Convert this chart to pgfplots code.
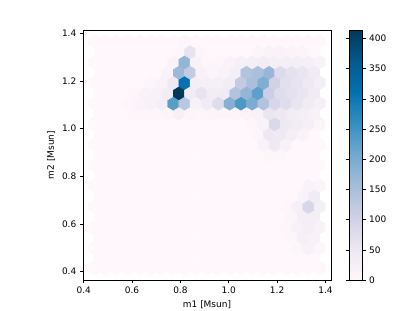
\documentclass[border=0pt]{standalone}
\usepackage{pgfplots}
\pgfplotsset{compat=1.18}
\usepackage{pgfplotstable}
\usepackage{fontspec}
\setmainfont{DejaVu Sans}

\pgfplotsset{
  colormap={pubu}{rgb255=(255,247,251) rgb255=(236,231,242) rgb255=(208,209,230)
    rgb255=(166,189,219) rgb255=(116,169,207) rgb255=(54,144,192)
    rgb255=(5,112,176) rgb255=(4,90,141) rgb255=(2,56,88)},
}

% pointy-top hexagon matching the hexbin cell (sx/2 = 5.64bp, sy/3 = 6.88bp)
\pgfdeclareplotmark{hexa}{%
  \pgfpathmoveto{\pgfpoint{0bp}{6.88bp}}%
  \pgfpathlineto{\pgfpoint{5.64bp}{3.44bp}}%
  \pgfpathlineto{\pgfpoint{5.64bp}{-3.44bp}}%
  \pgfpathlineto{\pgfpoint{0bp}{-6.88bp}}%
  \pgfpathlineto{\pgfpoint{-5.64bp}{-3.44bp}}%
  \pgfpathlineto{\pgfpoint{-5.64bp}{3.44bp}}%
  \pgfpathclose
  \pgfusepathqfillstroke}

% hexbin cells: centre x, centre y, count
\pgfplotstableread[row sep=\\]{
x y c\\
0.4436 0.4120 0\\ 0.4903 0.4120 0\\ 0.5369 0.4120 0\\ 0.5836 0.4120 0\\ 0.6302 0.4120 0\\ 0.6769 0.4120 0\\ 0.7235 0.4120 0\\ 0.7702 0.4120 0\\ 0.8168 0.4120 0\\ 0.8635 0.4120 0\\ 0.9101 0.4120 0\\ 0.9568 0.4120 0\\ 1.0034 0.4120 0\\ 1.0501 0.4120 0\\ 1.0967 0.4120 0\\ 1.1434 0.4120 0\\ 1.1900 0.4120 0\\ 1.2367 0.4120 0\\ 1.2833 0.4120 0\\ 1.3300 0.4120 0\\ 1.3766 0.4120 0\\
0.4669 0.4554 0\\ 0.5136 0.4554 0\\ 0.5602 0.4554 0\\ 0.6069 0.4554 0\\ 0.6535 0.4554 0\\ 0.7002 0.4554 0\\ 0.7468 0.4554 0\\ 0.7935 0.4554 0\\ 0.8401 0.4554 0\\ 0.8868 0.4554 0\\ 0.9334 0.4554 0\\ 0.9801 0.4554 0\\ 1.0267 0.4554 0\\ 1.0734 0.4554 0\\ 1.1200 0.4554 0\\ 1.1667 0.4554 0\\ 1.2133 0.4554 0\\ 1.2600 0.4554 0\\ 1.3066 0.4554 0\\ 1.3533 0.4554 0\\
0.4436 0.4988 0\\ 0.4903 0.4988 0\\ 0.5369 0.4988 0\\ 0.5836 0.4988 0\\ 0.6302 0.4988 0\\ 0.6769 0.4988 0\\ 0.7235 0.4988 0\\ 0.7702 0.4988 0\\ 0.8168 0.4988 0\\ 0.8635 0.4988 0\\ 0.9101 0.4988 0\\ 0.9568 0.4988 0\\ 1.0034 0.4988 0\\ 1.0501 0.4988 0\\ 1.0967 0.4988 0\\ 1.1434 0.4988 0\\ 1.1900 0.4988 0\\ 1.2367 0.4988 0\\ 1.2833 0.4988 8\\ 1.3300 0.4988 20\\ 1.3766 0.4988 8\\
0.4669 0.5422 0\\ 0.5136 0.5422 0\\ 0.5602 0.5422 0\\ 0.6069 0.5422 0\\ 0.6535 0.5422 0\\ 0.7002 0.5422 0\\ 0.7468 0.5422 0\\ 0.7935 0.5422 0\\ 0.8401 0.5422 0\\ 0.8868 0.5422 0\\ 0.9334 0.5422 0\\ 0.9801 0.5422 0\\ 1.0267 0.5422 0\\ 1.0734 0.5422 0\\ 1.1200 0.5422 0\\ 1.1667 0.5422 0\\ 1.2133 0.5422 0\\ 1.2600 0.5422 8\\ 1.3066 0.5422 25\\ 1.3533 0.5422 20\\
0.4436 0.5856 0\\ 0.4903 0.5856 0\\ 0.5369 0.5856 0\\ 0.5836 0.5856 0\\ 0.6302 0.5856 0\\ 0.6769 0.5856 0\\ 0.7235 0.5856 0\\ 0.7702 0.5856 0\\ 0.8168 0.5856 0\\ 0.8635 0.5856 0\\ 0.9101 0.5856 0\\ 0.9568 0.5856 0\\ 1.0034 0.5856 0\\ 1.0501 0.5856 0\\ 1.0967 0.5856 0\\ 1.1434 0.5856 0\\ 1.1900 0.5856 0\\ 1.2367 0.5856 5\\ 1.2833 0.5856 20\\ 1.3300 0.5856 30\\ 1.3766 0.5856 20\\
0.4669 0.6290 0\\ 0.5136 0.6290 0\\ 0.5602 0.6290 0\\ 0.6069 0.6290 0\\ 0.6535 0.6290 0\\ 0.7002 0.6290 0\\ 0.7468 0.6290 0\\ 0.7935 0.6290 0\\ 0.8401 0.6290 0\\ 0.8868 0.6290 0\\ 0.9334 0.6290 0\\ 0.9801 0.6290 0\\ 1.0267 0.6290 0\\ 1.0734 0.6290 0\\ 1.1200 0.6290 0\\ 1.1667 0.6290 0\\ 1.2133 0.6290 0\\ 1.2600 0.6290 10\\ 1.3066 0.6290 30\\ 1.3533 0.6290 30\\
0.4436 0.6724 0\\ 0.4903 0.6724 0\\ 0.5369 0.6724 0\\ 0.5836 0.6724 0\\ 0.6302 0.6724 0\\ 0.6769 0.6724 0\\ 0.7235 0.6724 0\\ 0.7702 0.6724 0\\ 0.8168 0.6724 0\\ 0.8635 0.6724 0\\ 0.9101 0.6724 0\\ 0.9568 0.6724 0\\ 1.0034 0.6724 0\\ 1.0501 0.6724 0\\ 1.0967 0.6724 0\\ 1.1434 0.6724 0\\ 1.1900 0.6724 0\\ 1.2367 0.6724 5\\ 1.2833 0.6724 25\\ 1.3300 0.6724 90\\ 1.3766 0.6724 30\\
0.4669 0.7158 0\\ 0.5136 0.7158 0\\ 0.5602 0.7158 0\\ 0.6069 0.7158 0\\ 0.6535 0.7158 0\\ 0.7002 0.7158 0\\ 0.7468 0.7158 0\\ 0.7935 0.7158 0\\ 0.8401 0.7158 0\\ 0.8868 0.7158 0\\ 0.9334 0.7158 0\\ 0.9801 0.7158 0\\ 1.0267 0.7158 0\\ 1.0734 0.7158 0\\ 1.1200 0.7158 0\\ 1.1667 0.7158 0\\ 1.2133 0.7158 0\\ 1.2600 0.7158 0\\ 1.3066 0.7158 15\\ 1.3533 0.7158 40\\
0.4436 0.7592 0\\ 0.4903 0.7592 0\\ 0.5369 0.7592 0\\ 0.5836 0.7592 0\\ 0.6302 0.7592 0\\ 0.6769 0.7592 0\\ 0.7235 0.7592 0\\ 0.7702 0.7592 0\\ 0.8168 0.7592 0\\ 0.8635 0.7592 0\\ 0.9101 0.7592 0\\ 0.9568 0.7592 0\\ 1.0034 0.7592 0\\ 1.0501 0.7592 0\\ 1.0967 0.7592 0\\ 1.1434 0.7592 0\\ 1.1900 0.7592 0\\ 1.2367 0.7592 0\\ 1.2833 0.7592 0\\ 1.3300 0.7592 15\\ 1.3766 0.7592 10\\
0.4669 0.8026 0\\ 0.5136 0.8026 0\\ 0.5602 0.8026 0\\ 0.6069 0.8026 0\\ 0.6535 0.8026 0\\ 0.7002 0.8026 0\\ 0.7468 0.8026 0\\ 0.7935 0.8026 0\\ 0.8401 0.8026 0\\ 0.8868 0.8026 0\\ 0.9334 0.8026 0\\ 0.9801 0.8026 0\\ 1.0267 0.8026 0\\ 1.0734 0.8026 0\\ 1.1200 0.8026 0\\ 1.1667 0.8026 0\\ 1.2133 0.8026 0\\ 1.2600 0.8026 0\\ 1.3066 0.8026 0\\ 1.3533 0.8026 0\\
0.4436 0.8460 0\\ 0.4903 0.8460 0\\ 0.5369 0.8460 0\\ 0.5836 0.8460 0\\ 0.6302 0.8460 0\\ 0.6769 0.8460 0\\ 0.7235 0.8460 0\\ 0.7702 0.8460 0\\ 0.8168 0.8460 0\\ 0.8635 0.8460 0\\ 0.9101 0.8460 0\\ 0.9568 0.8460 0\\ 1.0034 0.8460 0\\ 1.0501 0.8460 0\\ 1.0967 0.8460 0\\ 1.1434 0.8460 0\\ 1.1900 0.8460 0\\ 1.2367 0.8460 0\\ 1.2833 0.8460 0\\ 1.3300 0.8460 0\\ 1.3766 0.8460 0\\
0.4669 0.8894 0\\ 0.5136 0.8894 0\\ 0.5602 0.8894 0\\ 0.6069 0.8894 0\\ 0.6535 0.8894 0\\ 0.7002 0.8894 0\\ 0.7468 0.8894 0\\ 0.7935 0.8894 0\\ 0.8401 0.8894 0\\ 0.8868 0.8894 0\\ 0.9334 0.8894 0\\ 0.9801 0.8894 0\\ 1.0267 0.8894 0\\ 1.0734 0.8894 0\\ 1.1200 0.8894 0\\ 1.1667 0.8894 8\\ 1.2133 0.8894 8\\ 1.2600 0.8894 0\\ 1.3066 0.8894 0\\ 1.3533 0.8894 0\\
0.4436 0.9328 0\\ 0.4903 0.9328 0\\ 0.5369 0.9328 0\\ 0.5836 0.9328 0\\ 0.6302 0.9328 0\\ 0.6769 0.9328 0\\ 0.7235 0.9328 0\\ 0.7702 0.9328 0\\ 0.8168 0.9328 0\\ 0.8635 0.9328 0\\ 0.9101 0.9328 0\\ 0.9568 0.9328 0\\ 1.0034 0.9328 0\\ 1.0501 0.9328 0\\ 1.0967 0.9328 0\\ 1.1434 0.9328 15\\ 1.1900 0.9328 45\\ 1.2367 0.9328 20\\ 1.2833 0.9328 0\\ 1.3300 0.9328 0\\ 1.3766 0.9328 0\\
0.4669 0.9762 0\\ 0.5136 0.9762 0\\ 0.5602 0.9762 0\\ 0.6069 0.9762 0\\ 0.6535 0.9762 0\\ 0.7002 0.9762 0\\ 0.7468 0.9762 0\\ 0.7935 0.9762 0\\ 0.8401 0.9762 0\\ 0.8868 0.9762 0\\ 0.9334 0.9762 0\\ 0.9801 0.9762 0\\ 1.0267 0.9762 0\\ 1.0734 0.9762 0\\ 1.1200 0.9762 8\\ 1.1667 0.9762 50\\ 1.2133 0.9762 45\\ 1.2600 0.9762 30\\ 1.3066 0.9762 15\\ 1.3533 0.9762 0\\
0.4436 1.0196 0\\ 0.4903 1.0196 0\\ 0.5369 1.0196 0\\ 0.5836 1.0196 0\\ 0.6302 1.0196 0\\ 0.6769 1.0196 0\\ 0.7235 1.0196 0\\ 0.7702 1.0196 0\\ 0.8168 1.0196 0\\ 0.8635 1.0196 0\\ 0.9101 1.0196 0\\ 0.9568 1.0196 0\\ 1.0034 1.0196 0\\ 1.0501 1.0196 0\\ 1.0967 1.0196 8\\ 1.1434 1.0196 15\\ 1.1900 1.0196 85\\ 1.2367 1.0196 45\\ 1.2833 1.0196 35\\ 1.3300 1.0196 25\\ 1.3766 1.0196 10\\
0.4669 1.0630 0\\ 0.5136 1.0630 0\\ 0.5602 1.0630 0\\ 0.6069 1.0630 5\\ 0.6535 1.0630 5\\ 0.7002 1.0630 5\\ 0.7468 1.0630 10\\ 0.7935 1.0630 25\\ 0.8401 1.0630 10\\ 0.8868 1.0630 8\\ 0.9334 1.0630 10\\ 0.9801 1.0630 10\\ 1.0267 1.0630 10\\ 1.0734 1.0630 12\\ 1.1200 1.0630 20\\ 1.1667 1.0630 55\\ 1.2133 1.0630 50\\ 1.2600 1.0630 35\\ 1.3066 1.0630 30\\ 1.3533 1.0630 20\\
0.4436 1.1064 0\\ 0.4903 1.1064 0\\ 0.5369 1.1064 0\\ 0.5836 1.1064 5\\ 0.6302 1.1064 12\\ 0.6769 1.1064 20\\ 0.7235 1.1064 30\\ 0.7702 1.1064 230\\ 0.8168 1.1064 130\\ 0.8635 1.1064 20\\ 0.9101 1.1064 40\\ 0.9568 1.1064 75\\ 1.0034 1.1064 190\\ 1.0501 1.1064 240\\ 1.0967 1.1064 200\\ 1.1434 1.1064 140\\ 1.1900 1.1064 90\\ 1.2367 1.1064 75\\ 1.2833 1.1064 55\\ 1.3300 1.1064 40\\ 1.3766 1.1064 25\\
0.4669 1.1498 0\\ 0.5136 1.1498 0\\ 0.5602 1.1498 0\\ 0.6069 1.1498 5\\ 0.6535 1.1498 15\\ 0.7002 1.1498 20\\ 0.7468 1.1498 35\\ 0.7935 1.1498 414\\ 0.8401 1.1498 40\\ 0.8868 1.1498 60\\ 0.9334 1.1498 35\\ 0.9801 1.1498 40\\ 1.0267 1.1498 140\\ 1.0734 1.1498 175\\ 1.1200 1.1498 225\\ 1.1667 1.1498 110\\ 1.2133 1.1498 75\\ 1.2600 1.1498 65\\ 1.3066 1.1498 55\\ 1.3533 1.1498 40\\
0.4436 1.1932 0\\ 0.4903 1.1932 0\\ 0.5369 1.1932 0\\ 0.5836 1.1932 0\\ 0.6302 1.1932 0\\ 0.6769 1.1932 8\\ 0.7235 1.1932 15\\ 0.7702 1.1932 45\\ 0.8168 1.1932 310\\ 0.8635 1.1932 30\\ 0.9101 1.1932 25\\ 0.9568 1.1932 25\\ 1.0034 1.1932 35\\ 1.0501 1.1932 120\\ 1.0967 1.1932 150\\ 1.1434 1.1932 195\\ 1.1900 1.1932 100\\ 1.2367 1.1932 70\\ 1.2833 1.1932 60\\ 1.3300 1.1932 45\\ 1.3766 1.1932 30\\
0.4669 1.2366 0\\ 0.5136 1.2366 0\\ 0.5602 1.2366 0\\ 0.6069 1.2366 0\\ 0.6535 1.2366 0\\ 0.7002 1.2366 0\\ 0.7468 1.2366 15\\ 0.7935 1.2366 165\\ 0.8401 1.2366 120\\ 0.8868 1.2366 20\\ 0.9334 1.2366 10\\ 0.9801 1.2366 15\\ 1.0267 1.2366 30\\ 1.0734 1.2366 140\\ 1.1200 1.2366 150\\ 1.1667 1.2366 170\\ 1.2133 1.2366 80\\ 1.2600 1.2366 65\\ 1.3066 1.2366 55\\ 1.3533 1.2366 40\\
0.4436 1.2800 0\\ 0.4903 1.2800 0\\ 0.5369 1.2800 0\\ 0.5836 1.2800 0\\ 0.6302 1.2800 0\\ 0.6769 1.2800 0\\ 0.7235 1.2800 0\\ 0.7702 1.2800 15\\ 0.8168 1.2800 175\\ 0.8635 1.2800 20\\ 0.9101 1.2800 5\\ 0.9568 1.2800 8\\ 1.0034 1.2800 15\\ 1.0501 1.2800 25\\ 1.0967 1.2800 30\\ 1.1434 1.2800 35\\ 1.1900 1.2800 30\\ 1.2367 1.2800 30\\ 1.2833 1.2800 30\\ 1.3300 1.2800 25\\ 1.3766 1.2800 15\\
0.4669 1.3234 0\\ 0.5136 1.3234 0\\ 0.5602 1.3234 0\\ 0.6069 1.3234 0\\ 0.6535 1.3234 0\\ 0.7002 1.3234 0\\ 0.7468 1.3234 0\\ 0.7935 1.3234 8\\ 0.8401 1.3234 60\\ 0.8868 1.3234 8\\ 0.9334 1.3234 0\\ 0.9801 1.3234 0\\ 1.0267 1.3234 0\\ 1.0734 1.3234 0\\ 1.1200 1.3234 10\\ 1.1667 1.3234 15\\ 1.2133 1.3234 15\\ 1.2600 1.3234 12\\ 1.3066 1.3234 10\\ 1.3533 1.3234 0\\
0.4436 1.3668 0\\ 0.4903 1.3668 0\\ 0.5369 1.3668 0\\ 0.5836 1.3668 0\\ 0.6302 1.3668 0\\ 0.6769 1.3668 0\\ 0.7235 1.3668 0\\ 0.7702 1.3668 0\\ 0.8168 1.3668 8\\ 0.8635 1.3668 0\\ 0.9101 1.3668 0\\ 0.9568 1.3668 0\\ 1.0034 1.3668 0\\ 1.0501 1.3668 0\\ 1.0967 1.3668 0\\ 1.1434 1.3668 0\\ 1.1900 1.3668 0\\ 1.2367 1.3668 0\\ 1.2833 1.3668 0\\ 1.3300 1.3668 0\\ 1.3766 1.3668 0\\
}\hexdata

\begin{document}
\begin{tikzpicture}
\useasboundingbox (-83bp,-31bp) rectangle (332bp,280bp);
\begin{axis}[
  scale only axis,
  width=248bp, height=250bp,
  xmin=0.397, xmax=1.423, ymin=0.364, ymax=1.415,
  xtick={0.4,0.6,0.8,1.0,1.2,1.4},
  ytick={0.4,0.6,0.8,1.0,1.2,1.4},
  /pgf/number format/assume math mode=true,
  xticklabel style={/pgf/number format/.cd, fixed, fixed zerofill, precision=1},
  yticklabel style={/pgf/number format/.cd, fixed, fixed zerofill, precision=1},
  tick label style={font=\fontsize{9}{11}\selectfont},
  label style={font=\fontsize{9}{11}\selectfont},
  xlabel={m1 [Msun]}, ylabel={m2 [Msun]},
  tick align=outside, tick pos=left,
  major tick length=3.2bp,
  every tick/.style={black, line width=0.6bp},
  axis line style={line width=0.6bp},
  colormap name=pubu,
  point meta min=0, point meta max=414,
  colorbar,
  colorbar style={
    at={(parent axis.north east)}, anchor=north west, xshift=10bp,
    scale only axis, width=13bp, height=250bp,
    ytick={0,50,100,150,200,250,300,350,400},
    /pgf/number format/assume math mode=true,
    yticklabel style={font=\fontsize{9}{11}\selectfont},
    tick align=outside, major tick length=3.2bp,
    every tick/.style={black, line width=0.6bp},
    axis line style={line width=0.6bp},
  },
]
\addplot[scatter, only marks, mark=hexa,
  mark options={line width=0.3bp},
  scatter/use mapped color={draw=mapped color, fill=mapped color},
  point meta=explicit]
  table[x=x, y=y, meta=c] {\hexdata};
\end{axis}
\end{tikzpicture}
\end{document}
